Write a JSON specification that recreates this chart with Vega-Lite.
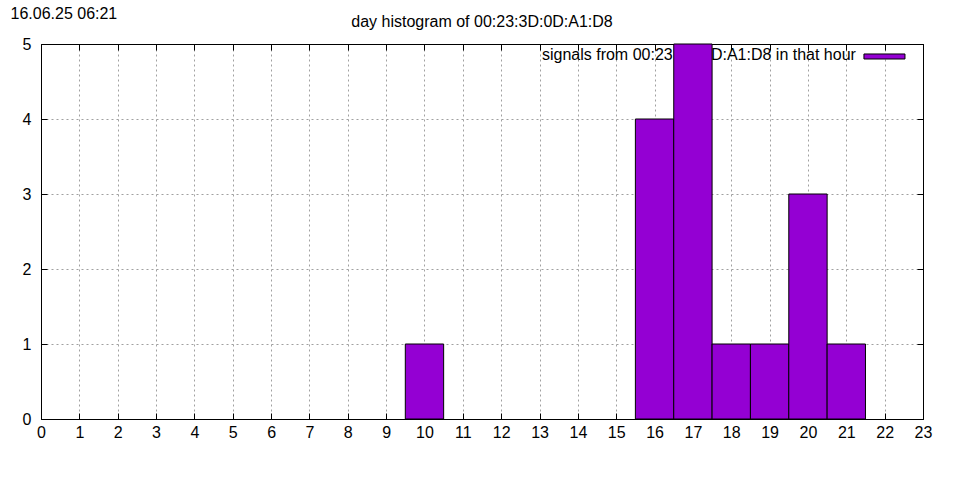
{
  "$schema": "https://vega.github.io/schema/vega-lite/v6.json",
  "width": 882,
  "height": 375,
  "autosize": "none",
  "padding": {"left": 41, "top": 44, "right": 37, "bottom": 61},
  "background": "white",
  "config": {
    "font": "Liberation Sans",
    "view": {"stroke": "black", "strokeWidth": 1},
    "axis": {
      "labelFont": "Liberation Sans",
      "labelFontSize": 16,
      "labelColor": "black",
      "domain": true,
      "domainColor": "black",
      "domainWidth": 1,
      "tickColor": "black",
      "tickSize": -6,
      "tickWidth": 1,
      "gridColor": "#a0a0a0",
      "gridDash": [2, 3],
      "gridWidth": 1,
      "gridOpacity": 1
    }
  },
  "title": {
    "text": "day histogram of 00:23:3D:0D:A1:D8",
    "font": "Liberation Sans",
    "fontSize": 16,
    "fontWeight": "normal",
    "color": "black",
    "anchor": "middle",
    "baseline": "alphabetic",
    "offset": -38
  },
  "datasets": {
    "hours": [
      {"hour": 10, "signals": 1},
      {"hour": 16, "signals": 4},
      {"hour": 17, "signals": 5},
      {"hour": 18, "signals": 1},
      {"hour": 19, "signals": 1},
      {"hour": 20, "signals": 3},
      {"hour": 21, "signals": 1}
    ],
    "key": [
      {"label": "signals from 00:23:3D:0D:A1:D8 in that hour"}
    ]
  },
  "layer": [
    {
      "data": {"name": "key"},
      "mark": {"type": "text", "align": "right", "baseline": "middle", "fontSize": 16, "font": "Liberation Sans", "color": "black"},
      "encoding": {
        "text": {"field": "label"},
        "x": {
          "datum": 21.25,
          "type": "quantitative",
          "scale": {"domain": [0, 23], "nice": false, "zero": false, "padding": 0},
          "axis": {"orient": "top", "labels": false, "grid": false, "title": null, "values": [0,1,2,3,4,5,6,7,8,9,10,11,12,13,14,15,16,17,18,19,20,21,22,23]}
        },
        "y": {
          "datum": 4.853,
          "type": "quantitative",
          "scale": {"domain": [0, 5], "nice": false, "padding": 0},
          "axis": {"orient": "right", "labels": false, "grid": false, "title": null, "values": [0,1,2,3,4,5]}
        }
      }
    },
    {
      "data": {"name": "key"},
      "mark": {"type": "rect", "color": "#9400d3", "stroke": "black", "strokeWidth": 1},
      "encoding": {
        "x": {"datum": 21.46, "type": "quantitative", "axis": null},
        "x2": {"datum": 22.53},
        "y": {"datum": 4.867, "type": "quantitative", "axis": null},
        "y2": {"datum": 4.8}
      }
    },
    {
      "data": {"name": "hours"},
      "mark": {"type": "bar", "size": 38.35, "color": "#9400d3", "stroke": "black", "strokeWidth": 1, "opacity": 1},
      "encoding": {
        "x": {
          "field": "hour",
          "type": "quantitative",
          "axis": {"orient": "bottom", "title": null, "values": [0,1,2,3,4,5,6,7,8,9,10,11,12,13,14,15,16,17,18,19,20,21,22,23], "labelPadding": 11, "labelFlush": false, "labelOverlap": false, "grid": true}
        },
        "y": {
          "field": "signals",
          "type": "quantitative",
          "axis": {
            "orient": "left",
            "values": [0,1,2,3,4,5],
            "labelPadding": 16,
            "labelFlush": false,
            "grid": true,
            "title": "16.06.25 06:21",
            "titleAngle": 0,
            "titleX": -31,
            "titleY": -31,
            "titleAlign": "left",
            "titleBaseline": "middle",
            "titleFont": "Liberation Sans",
            "titleFontSize": 16,
            "titleFontWeight": "normal",
            "titleColor": "black"
          }
        }
      }
    }
  ],
  "resolve": {"axis": {"x": "independent", "y": "independent"}}
}
